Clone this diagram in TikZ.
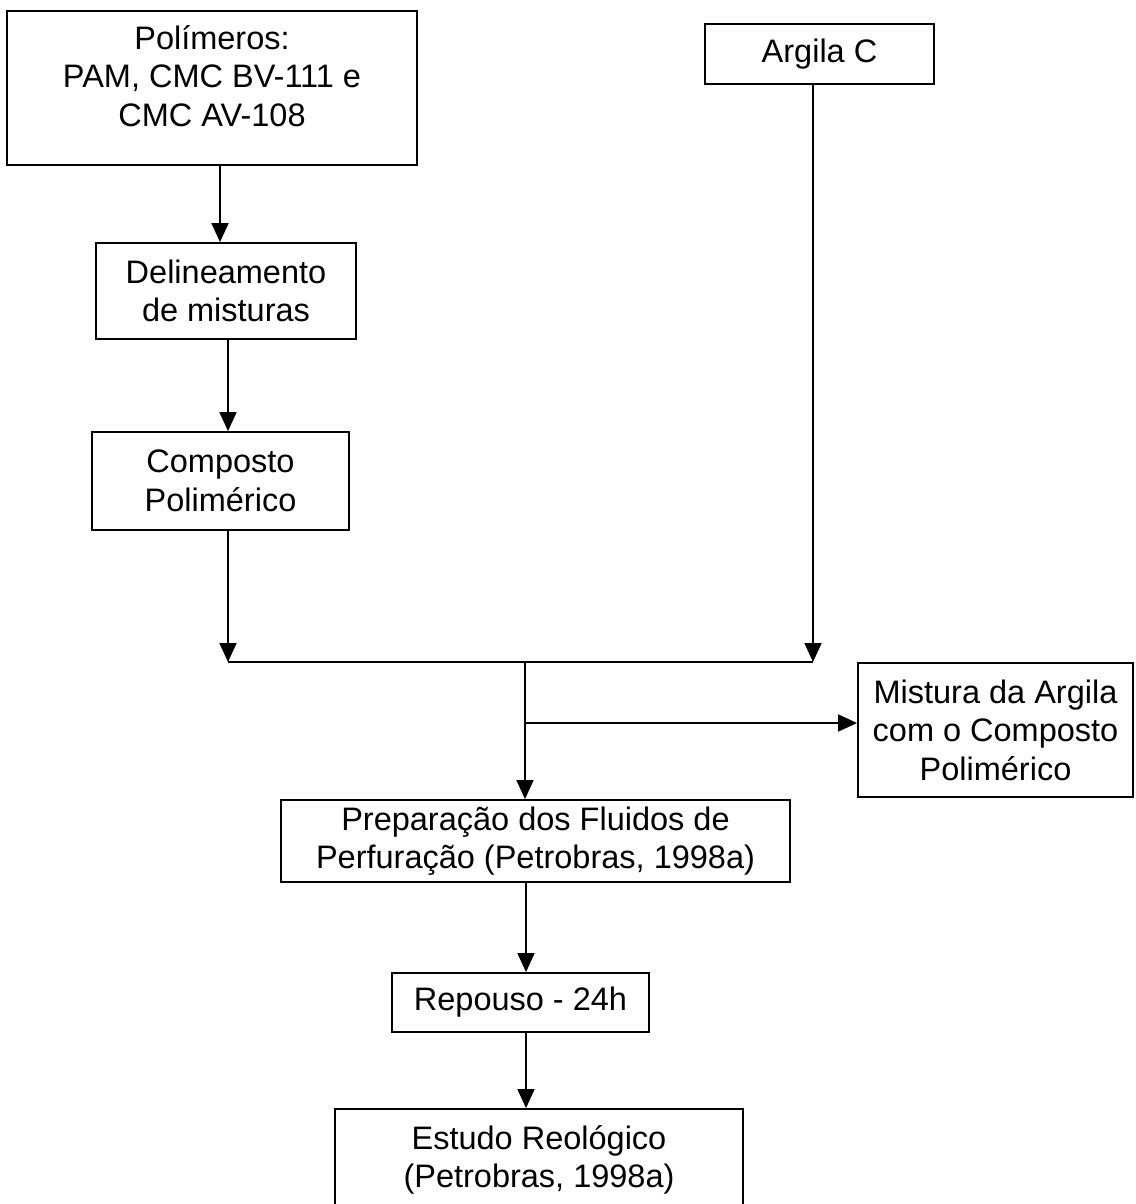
\documentclass[tikz,border=0pt]{standalone}
\usepackage{fontspec}
\setmainfont{Liberation Sans}
\usetikzlibrary{arrows.meta}
\begin{document}
\begin{tikzpicture}[x=1pt,y=-1pt,
  box/.style={draw, line width=1.8pt, align=center, inner sep=0pt,
    font=\fontsize{32.5}{38.5}\selectfont},
  flow/.style={line width=1.8pt, -{Triangle[length=19pt,width=17pt]}},
  link/.style={line width=1.8pt}]
\fill[white] (0,0) rectangle (1135,1204);
\useasboundingbox (0,0) rectangle (1135,1204);

% process boxes
\node[box, minimum width=410pt, minimum height=154pt] (pol) at (212,88)
  {Polímeros:\\PAM, CMC BV-111 e\\CMC AV-108\\[-14pt]};
\node[box, minimum width=229pt, minimum height=60pt] (arg) at (819.5,54) {Argila C};
\node[box, minimum width=260pt, minimum height=96pt] (del) at (226,291)
  {Delineamento\\de misturas};
\node[box, minimum width=257pt, minimum height=98pt] (com) at (220.5,481)
  {Composto\\Polimérico};
\node[box, minimum width=275pt, minimum height=134pt] (mis) at (995.5,730)
  {Mistura da Argila\\com o Composto\\Polimérico};
\node[box, minimum width=509pt, minimum height=82pt] (pre) at (535.5,841)
  {Preparação dos Fluidos de\\Perfuração (Petrobras, 1998a)};
\node[box, minimum width=257pt, minimum height=59pt] (rep) at (520.5,1002.5)
  {Repouso - 24h};
\node[box, minimum width=408pt, minimum height=102pt] (est) at (539,1160)
  {Estudo Reológico\\(Petrobras, 1998a)};

% connector columns and junctions
\coordinate (xa) at (220,0);
\coordinate (xb) at (228,0);
\coordinate (xc) at (813,0);
\coordinate (xd) at (526,0);
\coordinate (jl) at (228,662);
\coordinate (jr) at (813,662);
\coordinate (jm) at (525,662);
\coordinate (jb) at (525,723);

% connectors
\draw[flow] (xa |- pol.south) -- (xa |- del.north);
\draw[flow] (xb |- del.south) -- (xb |- com.north);
\draw[flow] (xb |- com.south) -- (jl);
\draw[flow] (xc |- arg.south) -- (jr);
\draw[link] (jl) -- (jr);
\draw[flow] (jm) -- (jm |- pre.north);
\draw[flow] (jb) -- (jb -| mis.west);
\draw[flow] (xd |- pre.south) -- (xd |- rep.north);
\draw[flow] (xd |- rep.south) -- (xd |- est.north);
\end{tikzpicture}
\end{document}
